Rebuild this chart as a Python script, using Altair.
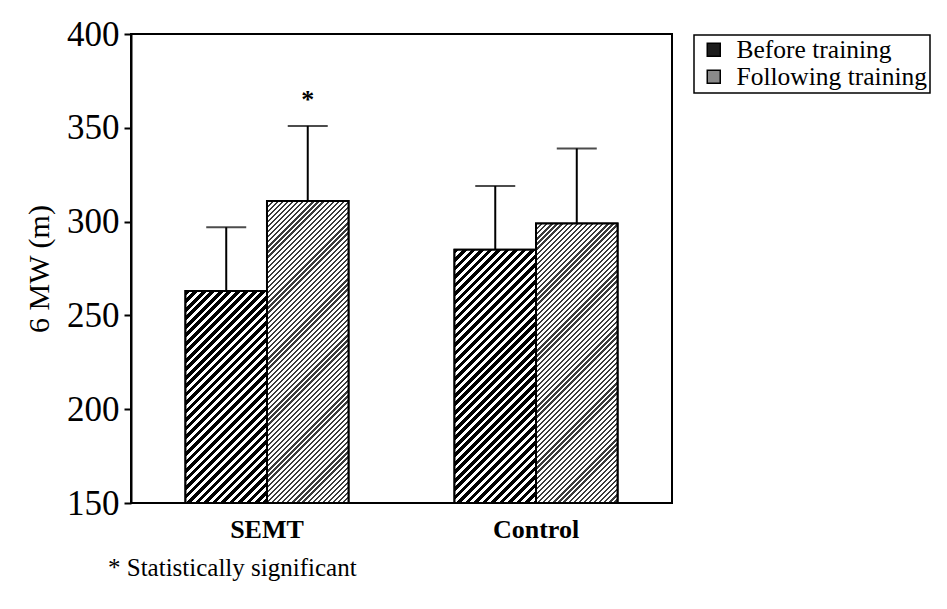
import math
import altair as alt
import pandas as pd

# ---- data ----
groups = ["SEMT", "Control"]
series = ["Before training", "Following training"]
before_mean = [263, 285]
before_sd = [34, 34]
after_mean = [311, 299]
after_sd = [40, 40]
after_significant = [True, False]
y_ticks = [150, 200, 250, 300, 350, 400]

rows = []
for i, g in enumerate(groups):
    rows.append(dict(group=g, series=series[0], mean=before_mean[i],
                     upper=before_mean[i] + before_sd[i], sig=""))
    rows.append(dict(group=g, series=series[1], mean=after_mean[i],
                     upper=after_mean[i] + after_sd[i],
                     sig="*" if after_significant[i] else ""))
df = pd.DataFrame(rows)

# ---- layout ----
W, H = 541, 469
YMIN, YMAX = y_ticks[0], y_ticks[-1]
PI, PO = 0.394, 0.2025
step = W / (len(groups) - PI + 2 * PO)
bar_w = step * (1 - PI) / len(series)
FONT = "Liberation Serif"

# hatch styles per series: (period px, dark fraction, dark colour)
hatch_style = {
    series[0]: (6.0, 0.55, "#000000"),
    series[1]: (3.6, 0.45, "#3a3a3a"),
}


def hatch_gradient(value, style):
    period, frac, dark = style
    w = bar_w
    h = (value - YMIN) / (YMAX - YMIN) * H
    D = (w + h) / math.sqrt(2)
    stops = []
    n = int(D / period) + 2
    for i in range(n):
        a = min(i * period / D, 1)
        b = min((i * period + frac * period) / D, 1)
        c = min((i + 1) * period / D, 1)
        stops += [
            {"offset": a, "color": dark},
            {"offset": b, "color": dark},
            {"offset": b, "color": "#ffffff"},
            {"offset": c, "color": "#ffffff"},
        ]
        if c >= 1:
            break
    k = (w + h) / (w * w + h * h)
    return {"gradient": "linear", "x1": 0, "y1": 0,
            "x2": w * k, "y2": h * k, "stops": stops}


x_enc = alt.X("group:N", sort=groups,
              scale=alt.Scale(paddingInner=PI, paddingOuter=PO),
              axis=alt.Axis(title=None, ticks=False, domain=False, labelAngle=0,
                            labelFont=FONT, labelFontSize=26, labelFontWeight="bold",
                            labelColor="black", labelPadding=13))
xo_enc = alt.XOffset("series:N", sort=series,
                     scale=alt.Scale(paddingInner=0, paddingOuter=0))
y_scale = alt.Scale(domain=[YMIN, YMAX], nice=False, zero=False)
y_axis = alt.Axis(values=y_ticks, grid=False, tickSize=7, tickWidth=2,
                  tickColor="black", domainColor="black", domainWidth=2,
                  labelFont=FONT, labelFontSize=35, labelColor="black",
                  labelPadding=5, title="6 MW (m)", titleFont=FONT,
                  titleFontSize=30, titleFontWeight="normal",
                  titleColor="black", titlePadding=12)

base = alt.Chart(df)

legend_bars = base.mark_bar(stroke="black", strokeWidth=2).encode(
    x=x_enc, xOffset=xo_enc,
    y=alt.Y("mean:Q", scale=y_scale, axis=y_axis),
    y2=alt.datum(YMIN),
    fill=alt.Fill("series:N", sort=series,
                  scale=alt.Scale(domain=series, range=["#1c1c1c", "#8a8a8a"]),
                  legend=alt.Legend(title=None, orient="none", legendX=563, legendY=1,
                                    strokeColor="black", padding=2,
                                    labelFont=FONT, labelFontSize=25.5, labelColor="black",
                                    labelLimit=400, labelOffset=10,
                                    symbolType="square", symbolSize=169,
                                    symbolOffset=5,
                                    symbolStrokeColor="black", symbolStrokeWidth=1.5,
                                    rowPadding=-8)),
)

hatch_layers = []
for i, g in enumerate(groups):
    for s, m in ((series[0], before_mean[i]), (series[1], after_mean[i])):
        hatch_layers.append(
            base.transform_filter(
                (alt.datum.group == g) & (alt.datum.series == s)
            ).mark_bar(stroke="black", strokeWidth=2).encode(
                x=x_enc, xOffset=xo_enc,
                y=alt.Y("mean:Q", scale=y_scale),
                y2=alt.datum(YMIN),
                fill=alt.value(hatch_gradient(m, hatch_style[s])),
            )
        )

err_rule = base.mark_rule(color="black", strokeWidth=2).encode(
    x=x_enc, xOffset=xo_enc,
    y=alt.Y("mean:Q", scale=y_scale), y2="upper:Q",
)
err_cap = base.mark_tick(color="black", orient="horizontal", size=40,
                         thickness=2).encode(
    x=x_enc, xOffset=xo_enc,
    y=alt.Y("upper:Q", scale=y_scale),
)
stars = base.mark_text(font=FONT, fontSize=26, fontWeight="bold", color="black",
                       dy=-26, baseline="middle").encode(
    x=x_enc, xOffset=xo_enc,
    y=alt.Y("upper:Q", scale=y_scale),
    text="sig:N",
)

chart = alt.layer(legend_bars, *hatch_layers, err_rule, err_cap, stars).properties(
    width=W, height=H,
    background="white",
    autosize=alt.AutoSizeParams(type="none"),
    padding={"left": 123, "top": 26, "right": 267, "bottom": 98},
    title=alt.Title("*  Statistically significant", orient="bottom", anchor="start",
                    frame="group", font=FONT, fontSize=25, fontWeight="normal",
                    color="black", offset=14, dx=-23, baseline="top"),
).configure_view(stroke="black", strokeWidth=2).configure_legend(
    strokeWidth=1.5
)

chart.save("out.html", embed_options={"renderer": "svg", "actions": False})
